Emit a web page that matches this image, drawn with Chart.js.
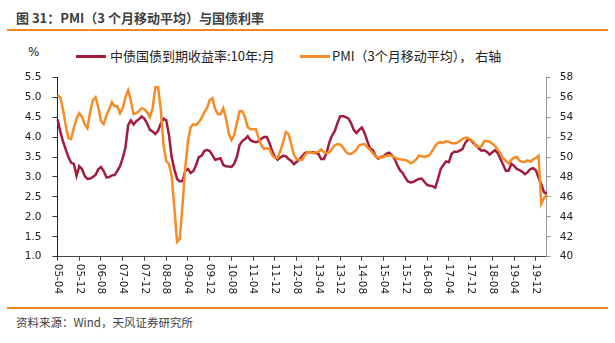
<!DOCTYPE html>
<html>
<head>
<meta charset="utf-8">
<script src="https://cdn.jsdelivr.net/npm/chart.js@4.4.1/dist/chart.umd.min.js"></script>
<style>
    body { margin: 0; width: 615px; height: 343px; background: #fff; position: relative; overflow: hidden;
           font-family: "Noto Sans CJK SC", sans-serif; }
    .title { position: absolute; left: 16px; top: 10px; font-size: 13px; line-height: 15px; font-weight: bold; color: #404040; }
    .rule { position: absolute; left: 7px; width: 601px; height: 2px; background: #F0871E; }
    .unit { position: absolute; left: 28px; top: 45px; font: 12px "DejaVu Sans", sans-serif; color: #222; }
    .legend { position: absolute; top: 47px; font-size: 13px; line-height: 18px; color: #222; white-space: nowrap; }
    .swatch { position: absolute; top: 55px; width: 30px; height: 3px; }
    .source { position: absolute; left: 16px; top: 314px; font-size: 11.5px; line-height: 16px; color: #404040; }
    #wrap { position: absolute; left: 0; top: 60px; width: 615px; height: 240px; }
</style>
</head>
<body>
<div class="title">图 31：PMI（3 个月移动平均）与国债利率</div>
<div class="rule" style="top:29px"></div>
<div class="unit">%</div>
<div class="swatch" style="left:76px;background:#A31C3E"></div>
<div class="legend" style="left:110px">中债国债到期收益率:10年:月</div>
<div class="swatch" style="left:300px;background:#F78C26"></div>
<div class="legend" style="left:332px">PMI（3个月移动平均），&nbsp;右轴</div>
<div id="wrap"><canvas id="chart"></canvas></div>
<div class="rule" style="top:307px"></div>
<div class="source">资料来源：Wind，天风证券研究所</div>

<script>
// monthly series, 2005-04 .. 2020-04
const startYear = 2005;
const startMonth = 4;

// 中债国债到期收益率:10年 (%)
const bondYield = [
    4.45, 4.15, 3.9, 3.7, 3.5, 3.36, 3.33, 3.03, 3.27, 3.2,
    3.03, 2.95, 2.96, 3.0, 3.05, 3.19, 3.25, 3.15, 2.99, 3.0,
    3.04, 3.05, 3.15, 3.27, 3.47, 3.74, 4.3, 4.42, 4.32, 4.4,
    4.45, 4.52, 4.46, 4.34, 4.18, 4.14, 4.08, 4.16, 4.34, 4.46,
    4.42, 4.06, 3.5, 3.19, 2.95, 2.89, 2.9, 3.15, 3.2, 3.1,
    3.15, 3.3, 3.5, 3.53, 3.65, 3.68, 3.65, 3.55, 3.43, 3.45,
    3.47, 3.3, 3.27, 3.26, 3.25, 3.33, 3.5, 3.8, 3.9, 3.95,
    4.02, 3.92, 3.89, 3.87, 3.9, 3.96, 4.0, 4.0, 3.85, 3.65,
    3.5, 3.43, 3.49, 3.53, 3.52, 3.45, 3.4, 3.32, 3.38, 3.43,
    3.52, 3.6, 3.62, 3.62, 3.62, 3.6, 3.58, 3.45, 3.45, 3.6,
    3.86, 4.04, 4.15, 4.35, 4.52, 4.53, 4.5, 4.47, 4.35, 4.18,
    4.1, 4.18, 4.24, 4.1, 3.9, 3.71, 3.68, 3.53, 3.46, 3.5,
    3.52, 3.58, 3.61, 3.55, 3.46, 3.3, 3.17, 3.1, 2.98, 2.88,
    2.86, 2.88, 2.92, 2.95, 2.96, 2.88, 2.8, 2.78, 2.77, 2.73,
    2.95, 3.2, 3.3, 3.39, 3.37, 3.58, 3.63, 3.63, 3.66, 3.7,
    3.85, 3.94, 3.93, 3.85, 3.8, 3.72, 3.66, 3.67, 3.63, 3.56,
    3.62, 3.67, 3.6, 3.45, 3.3, 3.15, 3.16, 3.33, 3.28, 3.2,
    3.17, 3.13, 3.07, 3.12, 3.2, 3.22, 3.17, 2.98, 2.82, 2.62, 2.57
];

// PMI 3个月移动平均 (right axis)
const pmiAvg = [
    56.2, 56.0, 54.8, 53.2, 51.9, 51.8, 52.9, 53.85, 54.4, 54.0,
    53.3, 52.9, 54.5, 55.7, 56.0, 55.0, 53.6, 53.3, 54.2, 54.8,
    55.5, 55.1, 55.1, 54.4, 54.9, 56.0, 56.7, 55.6, 54.3, 54.4,
    54.6, 54.9, 54.8, 54.5, 54.0, 54.9, 57.0, 57.0, 54.8, 51.2,
    49.6, 49.3, 48.1, 44.9, 41.5, 41.8, 45.2, 48.9, 51.6, 53.0,
    53.3, 53.2, 53.5, 53.9, 54.5, 54.9, 55.7, 55.9, 54.8, 54.3,
    54.3, 54.9, 53.9, 52.4, 51.7, 52.2, 53.4, 54.6, 54.6, 54.0,
    53.0, 52.8, 52.8, 52.8, 51.9, 51.2, 50.8, 50.9, 50.8, 50.2,
    49.9, 49.9, 50.6, 51.5, 52.5, 52.3, 51.3, 50.2, 49.8, 49.7,
    49.73, 50.2, 50.47, 50.53, 50.37, 50.47, 50.53, 50.77, 50.5, 50.4,
    50.47, 50.8, 51.17, 51.3, 51.27, 50.97, 50.57, 50.33, 50.3, 50.5,
    50.73, 51.17, 51.27, 51.3, 51.0, 50.73, 50.4, 50.07, 49.93, 49.93,
    50.03, 50.13, 50.17, 50.13, 49.97, 49.83, 49.77, 49.73, 49.7, 49.57,
    49.37, 49.53, 49.77, 50.13, 50.07, 50.0, 50.1, 50.23, 50.67, 51.1,
    51.43, 51.47, 51.43, 51.57, 51.53, 51.4, 51.37, 51.43, 51.6, 51.83,
    51.9, 51.93, 51.67, 51.57, 51.07, 51.03, 51.07, 51.6, 51.6, 51.53,
    51.33, 51.1, 50.77, 50.33, 49.87, 49.63, 49.37, 49.73, 49.93, 50.0,
    49.63, 49.5, 49.53, 49.67, 49.53, 49.77, 49.9, 50.13, 45.3, 45.9, 46.17
];

// axis ticks
const leftTicks = [1.0, 5.5, 0.5];   // min, max, step
const rightTicks = [40, 58, 2];
const labelEvery = 8;                // one x label every 8 months

// YY-MM labels
const months = bondYield.map((_, i) => {
    const m = startMonth - 1 + i;
    const yy = String((startYear + Math.floor(m / 12)) % 100).padStart(2, '0');
    const mm = String(m % 12 + 1).padStart(2, '0');
    return yy + '-' + mm;
});

const tickFont = { family: '"DejaVu Sans", sans-serif', size: 10.5 };

// x labels read top-to-bottom (rotated clockwise), so draw them here
const verticalLabels = {
    id: 'verticalLabels',
    afterDraw(chart) {
        const xs = chart.scales.x;
        const ctx = chart.ctx;
        ctx.save();
        ctx.fillStyle = '#222';
        ctx.font = `${tickFont.size}px ${tickFont.family}`;
        ctx.textAlign = 'left';
        ctx.textBaseline = 'middle';
        months.forEach((label, i) => {
            if (i % labelEvery !== 0) return;
            ctx.save();
            ctx.translate(xs.getPixelForValue(i), xs.top + 7);
            ctx.rotate(Math.PI / 2);
            ctx.fillText(label, 0, 0);
            ctx.restore();
        });
        ctx.restore();
    }
};

new Chart(document.getElementById('chart'), {
    type: 'line',
    data: {
        labels: months,
        datasets: [{
            label: '中债国债到期收益率:10年:月',
            data: bondYield,
            yAxisID: 'y',
            borderColor: '#A31C3E',
            borderWidth: 2.5,
            pointRadius: 0,
            tension: 0,
            order: 1
        }, {
            label: 'PMI（3个月移动平均），右轴',
            data: pmiAvg,
            yAxisID: 'y1',
            borderColor: '#F78C26',
            borderWidth: 2.5,
            pointRadius: 0,
            tension: 0,
            order: 0
        }]
    },
    options: {
        responsive: true,
        maintainAspectRatio: false,
        animation: false,
        layout: { padding: { top: 8.3, left: 0, right: 0, bottom: 0 } },
        plugins: {
            legend: { display: false },
            tooltip: { enabled: false }
        },
        scales: {
            x: {
                type: 'category',
                offset: false,
                afterFit: s => { s.height = 43.3; },
                grid: {
                    drawOnChartArea: false,
                    drawTicks: true,
                    tickLength: 4,
                    color: c => c.index % labelEvery === 0 ? '#444' : 'rgba(0,0,0,0)'
                },
                border: { color: '#444', width: 1 },
                ticks: { display: false }
            },
            y: {
                position: 'left',
                min: leftTicks[0],
                max: leftTicks[1],
                afterFit: s => { s.width = 57.5; },
                grid: { drawOnChartArea: false, tickLength: 5, color: '#333' },
                border: { color: '#222', width: 1 },
                ticks: {
                    stepSize: leftTicks[2],
                    padding: 11,
                    color: '#222',
                    font: tickFont,
                    callback: v => v.toFixed(1)
                }
            },
            y1: {
                position: 'right',
                min: rightTicks[0],
                max: rightTicks[1],
                afterFit: s => { s.width = 68.3; },
                grid: { drawOnChartArea: false, tickLength: 4, color: '#999' },
                border: { color: '#999', width: 1 },
                ticks: {
                    stepSize: rightTicks[2],
                    padding: 9,
                    color: '#222',
                    font: tickFont
                }
            }
        }
    },
    plugins: [verticalLabels]
});
</script>
</body>
</html>
